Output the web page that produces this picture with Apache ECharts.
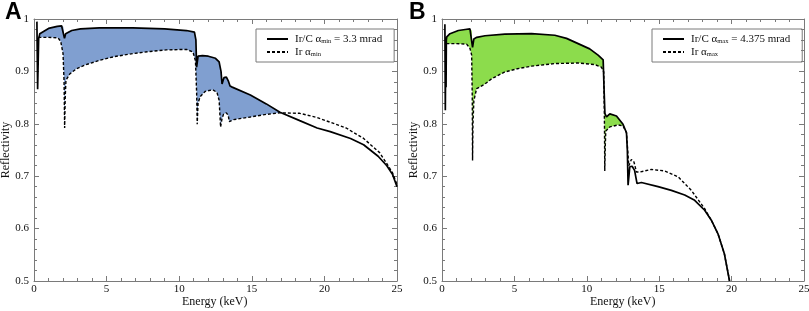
<!DOCTYPE html>
<html>
<head>
<meta charset="utf-8">
<script src="https://cdn.jsdelivr.net/npm/echarts@6.0.0/dist/echarts.min.js"></script>
<style>
  html, body { margin: 0; padding: 0; background: #fff; }
  #main { width: 809px; height: 311px; }
</style>
</head>
<body>
<div id="main"></div>
<script>
// panel A: Ir/C at alpha min (solid) and Ir at alpha min (dashed)
var aSolidE = [0.2, 0.25, 0.32, 0.4, 1.0, 1.6, 1.9, 2.02, 2.1, 2.18, 2.3, 2.6, 3.2, 4.5, 6.8, 9.0, 10.5, 11.05, 11.15, 11.2, 11.3, 11.6, 12.0, 12.5, 12.75, 12.88, 12.95, 13.08, 13.25, 13.38, 13.5, 13.65, 14.9, 16.0, 16.94, 18.3, 19.5, 20.4, 21.8, 22.7, 23.7, 24.3, 24.7, 25];
var aSolidR = [0.995, 0.866, 0.962, 0.972, 0.982, 0.986, 0.987, 0.985, 0.963, 0.972, 0.975, 0.978, 0.981, 0.983, 0.983, 0.981, 0.978, 0.975, 0.96, 0.908, 0.929, 0.930, 0.929, 0.925, 0.918, 0.9, 0.876, 0.888, 0.889, 0.882, 0.872, 0.870, 0.855, 0.838, 0.822, 0.806, 0.792, 0.785, 0.772, 0.76, 0.738, 0.72, 0.703, 0.68];
var aDashE = [0.3, 1.0, 1.66, 1.84, 2.0, 2.07, 2.11, 2.15, 2.2, 2.46, 2.92, 3.5, 4.5, 5.5, 6.8, 8.0, 9.1, 10.5, 10.95, 11.12, 11.2, 11.24, 11.3, 11.45, 11.8, 12.3, 12.6, 12.75, 12.85, 12.95, 13.05, 13.25, 13.38, 13.45, 13.6, 13.75, 14.9, 16.0, 16.94, 18.3, 19.5, 20.4, 21.5, 22.7, 23.8, 24.3, 24.7, 25];
var aDashR = [0.965, 0.965, 0.964, 0.957, 0.934, 0.88, 0.792, 0.85, 0.883, 0.895, 0.905, 0.912, 0.921, 0.928, 0.934, 0.938, 0.941, 0.942, 0.937, 0.92, 0.86, 0.799, 0.84, 0.852, 0.862, 0.865, 0.86, 0.845, 0.794, 0.81, 0.818, 0.821, 0.816, 0.804, 0.806, 0.808, 0.813, 0.818, 0.821, 0.82, 0.812, 0.803, 0.792, 0.772, 0.745, 0.724, 0.706, 0.684];

// panel B: Ir/C at alpha max (solid) and Ir at alpha max (dashed)
var bSolidE = [0.2, 0.23, 0.26, 0.28, 0.3, 0.33, 0.55, 1.13, 1.6, 1.93, 2.05, 2.11, 2.2, 2.4, 2.97, 4.34, 6.18, 7.79, 8.6, 9.4, 10.2, 10.78, 11.13, 11.2, 11.25, 11.36, 11.59, 12.05, 12.5, 12.74, 12.8, 12.85, 12.97, 13.13, 13.3, 13.47, 13.77, 14.92, 15.84, 16.76, 17.45, 18.14, 18.6, 19.06, 19.5, 19.86];
var bSolidR = [0.99, 0.826, 0.96, 0.87, 0.96, 0.966, 0.972, 0.978, 0.98, 0.981, 0.978, 0.946, 0.962, 0.965, 0.968, 0.971, 0.972, 0.969, 0.963, 0.953, 0.943, 0.931, 0.922, 0.86, 0.82, 0.813, 0.819, 0.815, 0.799, 0.783, 0.75, 0.683, 0.718, 0.719, 0.711, 0.686, 0.688, 0.68, 0.673, 0.664, 0.654, 0.635, 0.616, 0.59, 0.552, 0.5];
var bDashE = [0.3, 1.0, 1.7, 1.93, 2.05, 2.09, 2.11, 2.14, 2.2, 2.39, 2.97, 3.43, 4.34, 5.2, 6.18, 7.79, 9.4, 10.55, 11.01, 11.17, 11.22, 11.24, 11.28, 11.31, 11.59, 12.16, 12.5, 12.74, 12.9, 13.08, 13.26, 13.43, 13.66, 14.46, 15.38, 16.3, 17.22, 18.14, 18.6, 19.06, 19.5, 19.86];
var bDashR = [0.953, 0.953, 0.952, 0.944, 0.931, 0.85, 0.73, 0.8, 0.844, 0.867, 0.876, 0.886, 0.899, 0.905, 0.91, 0.915, 0.916, 0.913, 0.908, 0.899, 0.8, 0.71, 0.76, 0.786, 0.794, 0.798, 0.796, 0.783, 0.72, 0.732, 0.727, 0.708, 0.708, 0.713, 0.71, 0.699, 0.673, 0.638, 0.616, 0.59, 0.552, 0.5];

var xTicks = [0, 25, 5];
var yTicks = [0.5, 1, 0.1];

var legendA = {
    'Ir/C min': '{t|Ir/C α}{s|min}{t| = 3.3 mrad}',
    'Ir min': '{t|Ir α}{s|min}'
};
var legendB = {
    'Ir/C max': '{t|Ir/C α}{s|max}{t| = 4.375 mrad}',
    'Ir max': '{t|Ir α}{s|max}'
};

function zip(xs, ys) {
    return xs.map(function (x, i) { return [x, ys[i]]; });
}

// region between the two curves (solid on top, dashed below)
function band(sE, sR, dE, dR, lo, hi) {
    var top = zip(sE, sR).filter(function (p) { return p[0] >= lo && p[0] <= hi; });
    var bot = zip(dE, dR).filter(function (p) { return p[0] >= lo && p[0] <= hi; });
    return top.concat(bot.reverse());
}

var font = 'Liberation Serif';
var frame = '#7a7a7a';

function xAx(gi, show) {
    return {
        type: 'value', gridIndex: gi, position: show ? 'bottom' : 'top',
        min: xTicks[0], max: xTicks[1], interval: xTicks[2],
        axisLine: { show: true, onZero: false, lineStyle: { color: frame, width: 1 } },
        axisTick: { show: true, inside: true, length: 5, lineStyle: { color: frame } },
        minorTick: { show: true, splitNumber: 5, length: 3, lineStyle: { color: frame } },
        axisLabel: { show: show, fontFamily: font, fontSize: 11, color: '#111', margin: 3 },
        splitLine: { show: false }
    };
}

function yAx(gi, show) {
    return {
        type: 'value', gridIndex: gi, position: show ? 'left' : 'right',
        min: yTicks[0], max: yTicks[1], interval: yTicks[2],
        name: show ? 'Reflectivity' : '', nameLocation: 'middle', nameGap: 21,
        nameTextStyle: { fontFamily: font, fontSize: 12, color: '#111' },
        axisLine: { show: true, onZero: false, lineStyle: { color: frame, width: 1 } },
        axisTick: { show: true, inside: true, length: 5, lineStyle: { color: frame } },
        minorTick: { show: true, splitNumber: 5, length: 3, lineStyle: { color: frame } },
        axisLabel: { show: show, fontFamily: font, fontSize: 11, color: '#111', margin: 5 },
        splitLine: { show: false }
    };
}

function fillSeries(xi, poly, color) {
    return {
        type: 'custom', xAxisIndex: xi, yAxisIndex: xi, silent: true, z: 1,
        data: [[poly[0][0], poly[0][1]]],
        renderItem: function (params, api) {
            var pts = poly.map(function (p) { return api.coord(p); });
            return { type: 'polygon', shape: { points: pts }, style: { fill: color } };
        }
    };
}

function lineSeries(name, xi, data, dashed) {
    return {
        name: name, type: 'line', xAxisIndex: xi, yAxisIndex: xi, z: 3,
        data: data, symbol: 'none', animation: false,
        lineStyle: { color: '#000', width: dashed ? 1.4 : 1.7, type: dashed ? [3, 2] : 'solid' },
        itemStyle: { color: '#000' }
    };
}

function legendOf(left, names, map) {
    return {
        orient: 'vertical', left: left, top: 29, data: names,
        itemWidth: 21, itemHeight: 10, itemGap: 1,
        borderColor: frame, borderWidth: 1, padding: [4, 12, 4, 10],
        itemStyle: { color: 'rgba(0,0,0,0)', borderWidth: 0 },
        formatter: function (n) { return map[n]; },
        textStyle: {
            fontFamily: font, fontSize: 11, color: '#111', padding: [0, 0, 0, 2],
            rich: {
                t: { fontFamily: font, fontSize: 11, color: '#111', lineHeight: 13 },
                s: { fontFamily: font, fontSize: 6.5, color: '#111', lineHeight: 13, padding: [5, 0, 0, 0] }
            }
        }
    };
}

function xName(cx) {
    return {
        type: 'text', left: cx - 33, top: 296, silent: true,
        style: { text: 'Energy (keV)', font: '12px "Liberation Serif"', fill: '#111' }
    };
}

var chart = echarts.init(document.getElementById('main'));
var option = {
    animation: false,
    backgroundColor: '#fff',
    title: [
        { text: 'A', left: 0, top: -4, textStyle: { fontFamily: 'Liberation Sans', fontSize: 23, fontWeight: 'bold', color: '#000' } },
        { text: 'B', left: 404, top: -4, textStyle: { fontFamily: 'Liberation Sans', fontSize: 23, fontWeight: 'bold', color: '#000' } }
    ],
    graphic: [xName(215), xName(623)],
    grid: [
        { left: 34, right: 412, top: 19, bottom: 30, outerBoundsMode: 'none', containLabel: false },
        { left: 442, right: 5, top: 19, bottom: 30, outerBoundsMode: 'none', containLabel: false }
    ],
    xAxis: [xAx(0, true), xAx(0, false), xAx(1, true), xAx(1, false)],
    yAxis: [yAx(0, true), yAx(0, false), yAx(1, true), yAx(1, false)],
    legend: [
        legendOf(256, ['Ir/C min', 'Ir min'], legendA),
        legendOf(652, ['Ir/C max', 'Ir max'], legendB)
    ],
    series: [
        fillSeries(0, band(aSolidE, aSolidR, aDashE, aDashR, 0.3, 16.94), '#809fd0'),
        lineSeries('Ir/C min', 0, zip(aSolidE, aSolidR), false),
        lineSeries('Ir min', 0, zip(aDashE, aDashR), true),
        fillSeries(2, band(bSolidE, bSolidR, bDashE, bDashR, 0.3, 12.74), '#8cdc4c'),
        lineSeries('Ir/C max', 2, zip(bSolidE, bSolidR), false),
        lineSeries('Ir max', 2, zip(bDashE, bDashR), true)
    ]
};
chart.setOption(option);
window.addEventListener('resize', function () { chart.resize(); });
</script>
</body>
</html>
